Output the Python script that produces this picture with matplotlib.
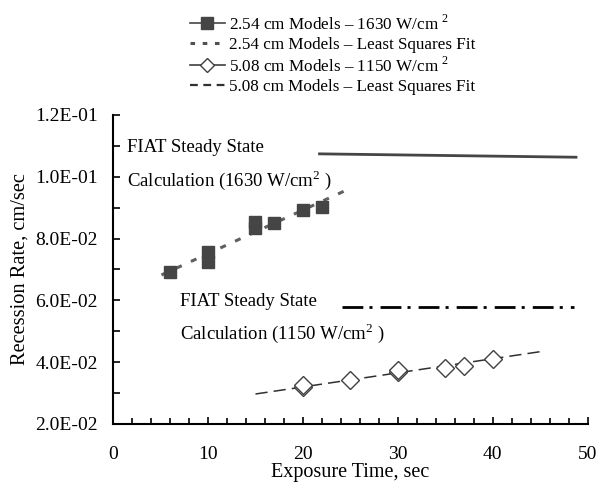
import matplotlib.pyplot as plt
from matplotlib.lines import Line2D

plt.rcParams['font.family'] = ['Liberation Serif', 'DejaVu Serif']
plt.rcParams['mathtext.fontset'] = 'custom'
plt.rcParams['mathtext.rm'] = 'Liberation Serif'

# 2.54 cm models at 1630 W/cm2
t_254 = [6, 10, 10, 15, 15, 17, 20, 22]
r_254 = [0.0692, 0.0755, 0.0725, 0.0854, 0.0834, 0.0851, 0.0893, 0.0903]
fit_254_t = [5.1, 24.6]
fit_254_r = [0.0682, 0.0957]

# 5.08 cm models at 1150 W/cm2
t_508 = [20, 20, 25, 30, 30, 35, 37, 40]
r_508 = [0.0321, 0.0326, 0.0342, 0.0369, 0.0375, 0.0380, 0.0388, 0.0410]
fit_508_t = [15, 45]
fit_508_r = [0.0297, 0.0434]

# FIAT steady state calculations
fiat_1630_t = [21.6, 48.9]
fiat_1630_r = [0.1074, 0.1063]
fiat_1150_t = [24.1, 48.5]
fiat_1150_r = [0.0580, 0.0580]

fig = plt.figure(figsize=(5.98, 4.91), dpi=100)
ax = fig.add_axes([0.189, 0.1365, 0.794, 0.6295])

ax.plot(fiat_1630_t, fiat_1630_r, color="#454545", lw=2.0, solid_capstyle="butt")
ax.plot(fiat_1150_t, fiat_1150_r, color="black", lw=2.0, dashes=(7.5, 2.2, 1.1, 2.9))
ax.plot(fit_254_t, fit_254_r, color="#606060", lw=2.2, dashes=(2.0, 3.3))
ax.plot(fit_508_t, fit_508_r, color="#303030", lw=1.1, dashes=(8, 4))
ax.plot(t_254, r_254, ls="none", marker="s", ms=8.5, color="#454545", mec="#454545")
ax.plot(t_508, r_508, ls="none", marker="D", ms=9, mfc="white", mec="#404040", mew=1.0)

ax.text(1.45, 0.1096, "FIAT Steady State", fontsize=13.5, va="center")
ax.text(1.45, 0.0990, r"Calculation (1630 W/cm$^{\mathrm{2}}$ )", fontsize=13.5, va="center")
ax.text(7.05, 0.0595, "FIAT Steady State", fontsize=13.5, va="center")
ax.text(7.05, 0.0494, r"Calculation (1150 W/cm$^{\mathrm{2}}$ )", fontsize=13.5, va="center")

ax.set_xlim(0, 50)
ax.set_ylim(0.02, 0.12)
ax.set_xticks(range(0, 51, 10))
ax.set_xticks(range(0, 51, 2), minor=True)
ax.set_yticks([0.02, 0.04, 0.06, 0.08, 0.10, 0.12])
ax.set_yticklabels(["2.0E-02", "4.0E-02", "6.0E-02", "8.0E-02", "1.0E-01", "1.2E-01"])
ax.set_yticks([0.03, 0.05, 0.07, 0.09, 0.11], minor=True)
ax.tick_params(which="both", direction="in", labelsize=14, width=1.2, length=5)
ax.tick_params(axis="x", which="major", pad=16)
ax.tick_params(axis="y", which="major", pad=11)
ax.tick_params(axis="x", which="minor", length=4)
for s in ["top", "right"]:
    ax.spines[s].set_visible(False)
for s in ["left", "bottom"]:
    ax.spines[s].set_linewidth(1.5)

ax.set_xlabel("Exposure Time, sec", fontsize=14.5, labelpad=0)
ax.set_ylabel("Recession Rate, cm/sec", fontsize=14.7, labelpad=4)

handles = [
    Line2D([], [], color="#454545", lw=1.2, marker="s", ms=8.5),
    Line2D([], [], color="#505050", lw=2.2, dashes=(1.5, 2.5)),
    Line2D([], [], color="#404040", lw=1.2, marker="D", ms=7, mfc="white"),
    Line2D([], [], color="#303030", lw=1.6, dashes=(3.5, 2.5)),
]
labels = [
    r"2.54 cm Models – 1630 W/cm $^{\mathrm{2}}$",
    "2.54 cm Models – Least Squares Fit",
    r"5.08 cm Models – 1150 W/cm $^{\mathrm{2}}$",
    "5.08 cm Models – Least Squares Fit",
]
fig.legend(handles, labels, loc="upper left", bbox_to_anchor=(0.297, 0.996),
           frameon=False, fontsize=12.3, handlelength=2.05, handletextpad=0.25,
           labelspacing=0.2, borderaxespad=0.3)

fig.savefig("out.png", dpi=100)
